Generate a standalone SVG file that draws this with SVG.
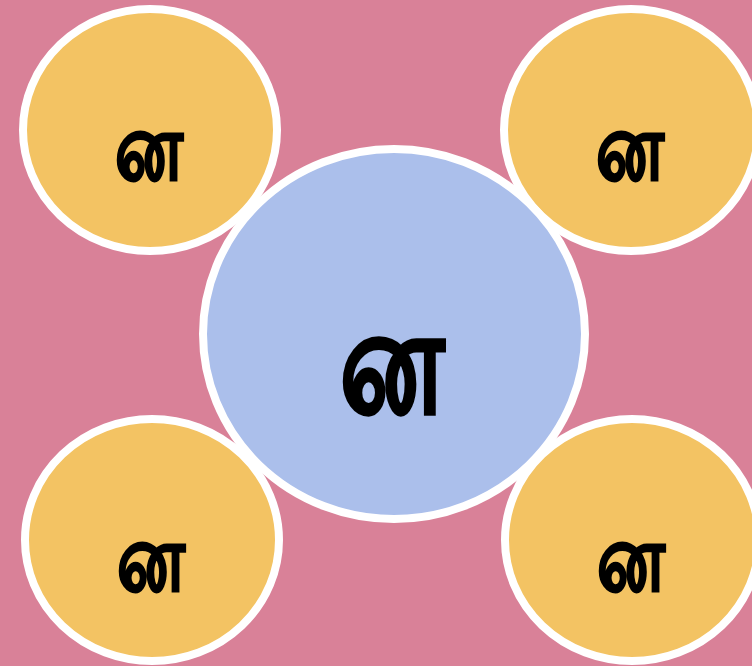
<svg xmlns="http://www.w3.org/2000/svg" width="752" height="666" viewBox="0 0 752 666">
<style>
.bg{fill:#D98198}
.sat{fill:#F3C363;stroke:#FFFFFF;stroke-width:8}
.hub{fill:#ABBFEB;stroke:#FFFFFF;stroke-width:8}
.t{font-family:"Noto Sans","Liberation Sans",sans-serif;font-weight:bold;fill:#000;stroke:#000;text-anchor:middle}
.s{font-size:70px;stroke-width:1.4}
.l{font-size:107px;stroke-width:2}
</style>
<rect class="bg" x="0" y="0" width="752" height="666"/>
<g id="connectors"></g>
<g id="n1"><ellipse class="sat" cx="150" cy="130" rx="127" ry="121"/><text class="t s" transform="translate(149,179) scale(1,1.33)" x="0" y="0">ன</text></g>
<g id="n2"><ellipse class="sat" cx="631" cy="130" rx="127" ry="121"/><text class="t s" transform="translate(630,179) scale(1,1.33)" x="0" y="0">ன</text></g>
<g id="n3"><ellipse class="sat" cx="152" cy="540" rx="127" ry="121"/><text class="t s" transform="translate(151,590) scale(1,1.33)" x="0" y="0">ன</text></g>
<g id="n4"><ellipse class="sat" cx="632" cy="540" rx="127" ry="121"/><text class="t s" transform="translate(631,590) scale(1,1.33)" x="0" y="0">ன</text></g>
<g id="hub"><ellipse class="hub" cx="394" cy="334" rx="191" ry="185"/><text class="t l" transform="translate(392,412) scale(1,1.36)" x="0" y="0">ன</text></g>
</svg>
